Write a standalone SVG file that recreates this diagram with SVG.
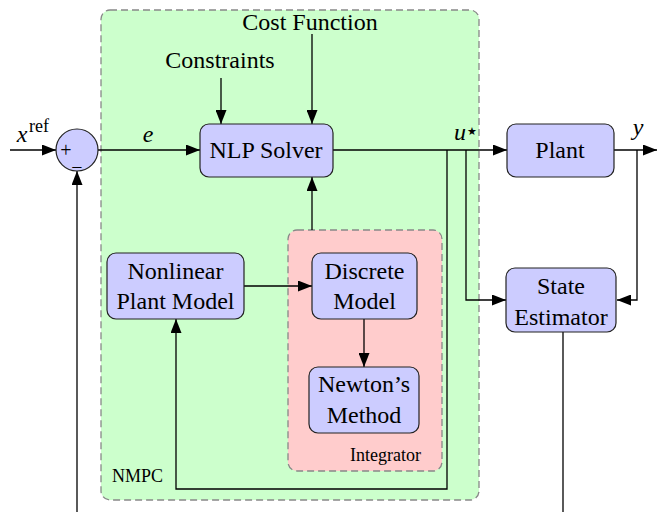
<svg xmlns="http://www.w3.org/2000/svg" width="657" height="512" viewBox="0 0 657 512">
<style>
.t{font-family:"Liberation Serif","Times New Roman",serif;font-size:24px;fill:#000;text-anchor:middle}
.s{font-family:"Liberation Serif","Times New Roman",serif;font-size:18px;fill:#000}
.i{font-style:italic}
.node{fill:#ccccff;stroke:#222;stroke-width:1.2}
.grp{stroke:#888;stroke-width:1.3;stroke-dasharray:7,4}
.c{fill:none;stroke:#000;stroke-width:1.3}
</style>
<defs>
<marker id="ah" markerWidth="14" markerHeight="11" refX="14" refY="5.5" orient="auto" markerUnits="userSpaceOnUse">
<path d="M0,0 L14,5.5 L0,11 z" fill="#000"/>
</marker>
</defs>
<rect width="657" height="512" fill="#fff"/>
<g id="nmpc">
<rect class="grp" x="101" y="10" width="378" height="490" rx="9" fill="#ccffcc"/>
<text class="s" x="112" y="482">NMPC</text>
</g>
<g id="integrator">
<rect class="grp" x="288" y="230" width="154" height="241" rx="9" fill="#ffcccc"/>
<text class="s" x="350" y="461">Integrator</text>
</g>
<g id="connectors">
<path class="c" d="M10,150 L56,150" marker-end="url(#ah)"/>
<path class="c" d="M98,150 L200,150" marker-end="url(#ah)"/>
<path class="c" d="M221,78 L221,124" marker-end="url(#ah)"/>
<path class="c" d="M312,34 L312,124" marker-end="url(#ah)"/>
<path class="c" d="M312,230 L312,177" marker-end="url(#ah)"/>
<path class="c" d="M333,150 L507,150" marker-end="url(#ah)"/>
<path class="c" d="M447,150 L447,489 L176,489 L176,319" marker-end="url(#ah)"/>
<path class="c" d="M466,150 L466,300 L506,300" marker-end="url(#ah)"/>
<path class="c" d="M614,150 L657,150" marker-end="url(#ah)"/>
<path class="c" d="M637,150 L637,300 L617,300" marker-end="url(#ah)"/>
<path class="c" d="M563,332 L563,512"/>
<path class="c" d="M77,512 L77,171" marker-end="url(#ah)"/>
<path class="c" d="M244,286 L312,286" marker-end="url(#ah)"/>
<path class="c" d="M364,319 L364,367" marker-end="url(#ah)"/>
</g>
<g id="labels">
<text class="t" x="310" y="30">Cost Function</text>
<text class="t" x="220" y="68">Constraints</text>
<text class="t i" x="148" y="142">e</text>
<text class="t i" x="22" y="142">x</text>
<text class="t" x="39" y="132" style="font-size:18px">ref</text>
<text class="t i" x="460" y="140">u</text>
<text class="t" x="471.5" y="135" style="font-size:11px">★</text>
<text class="t i" x="638" y="135">y</text>
</g>
<g id="sum">
<circle cx="77" cy="150" r="21" fill="#ccccff" stroke="#222" stroke-width="1.2"/>
<text class="t" x="66" y="157" style="font-size:20px">+</text>
<text class="t" x="77" y="174" style="font-size:20px">−</text>
</g>
<g id="nlp">
<rect class="node" x="200" y="124" width="133" height="53" rx="9"/>
<text class="t" x="266" y="158">NLP Solver</text>
</g>
<g id="plant">
<rect class="node" x="507" y="124" width="107" height="53" rx="9"/>
<text class="t" x="560" y="158">Plant</text>
</g>
<g id="estimator">
<rect class="node" x="506" y="268" width="110" height="64" rx="9"/>
<text class="t" x="561" y="294">State</text>
<text class="t" x="561" y="325">Estimator</text>
</g>
<g id="npm">
<rect class="node" x="107" y="253" width="137" height="66" rx="9"/>
<text class="t" x="175.5" y="279">Nonlinear</text>
<text class="t" x="175.5" y="309">Plant Model</text>
</g>
<g id="discrete">
<rect class="node" x="312" y="253" width="105" height="66" rx="9"/>
<text class="t" x="364.5" y="279">Discrete</text>
<text class="t" x="364.5" y="309">Model</text>
</g>
<g id="newton">
<rect class="node" x="309" y="367" width="110" height="66" rx="9"/>
<text class="t" x="364" y="392">Newton’s</text>
<text class="t" x="364" y="423">Method</text>
</g>
</svg>
